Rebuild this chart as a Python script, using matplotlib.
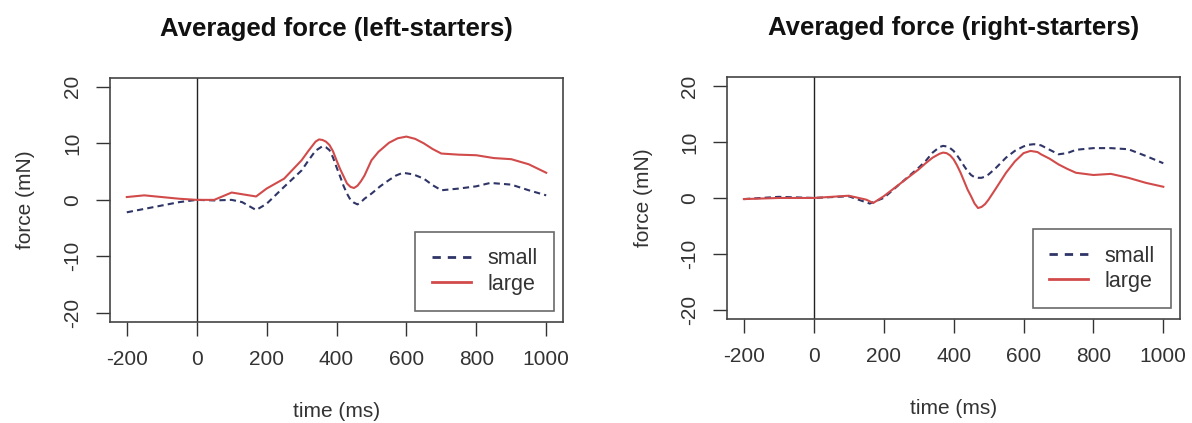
import matplotlib
matplotlib.use("Agg")
import matplotlib.pyplot as plt
from matplotlib.lines import Line2D

plt.rcParams['font.family'] = ['Liberation Sans', 'DejaVu Sans']

# left-starters (time in ms, force in mN)
left_large_t = [-200, -150, -100, -50, 0, 50, 100, 150, 170, 200, 250, 300, 320, 340, 350, 360,
                370, 380, 390, 400, 410, 420, 430, 440, 450, 460, 470, 480, 500, 520, 550,
                575, 600, 625, 650, 675, 700, 750, 800, 850, 900, 950, 1000]
left_large_f = [0.5, 0.8, 0.5, 0.2, 0.0, 0.0, 1.3, 0.8, 0.6, 2.0, 3.75, 7.0, 8.7, 10.3, 10.7, 10.6,
                10.3, 9.7, 8.6, 7.0, 5.5, 4.2, 2.9, 2.3, 2.1, 2.5, 3.3, 4.3, 7.0, 8.5, 10.1,
                10.9, 11.2, 10.8, 10.0, 9.0, 8.2, 8.0, 7.9, 7.4, 7.2, 6.3, 4.8]

left_small_t = [-200, -150, -100, -50, 0, 50, 100, 130, 170, 200, 250, 300, 320, 340, 360,
                370, 380, 390, 400, 410, 420, 430, 440, 450, 460, 470, 480, 500, 525, 550,
                570, 590, 620, 650, 675, 700, 750, 800, 840, 900, 950, 1000]
left_small_f = [-2.2, -1.6, -1.0, -0.4, 0.0, -0.1, 0.0, -0.4, -1.8, -0.7, 2.3, 5.2, 7.0, 8.7, 9.5,
                9.3, 8.8, 7.5, 5.8, 4.2, 2.5, 1.1, 0.0, -0.5, -0.8, -0.4, 0.2, 1.1, 2.4, 3.5,
                4.3, 4.8, 4.5, 3.75, 2.6, 1.7, 2.0, 2.4, 3.0, 2.7, 1.7, 0.8]

# right-starters
right_large_t = [-200, -100, 0, 100, 150, 170, 200, 250, 300, 320, 340, 360, 370, 380, 390,
                 400, 410, 420, 430, 440, 450, 460, 470, 480, 490, 500, 520, 550, 575, 600,
                 620, 640, 650, 675, 700, 725, 750, 800, 850, 900, 950, 1000]
right_large_f = [-0.2, 0.0, 0.0, 0.4, -0.3, -0.9, 0.3, 2.7, 5.1, 6.2, 7.2, 7.9, 8.1, 8.0, 7.6,
                 6.9, 5.8, 4.5, 3.0, 1.5, 0.3, -1.0, -1.8, -1.6, -1.1, -0.3, 1.6, 4.5, 6.5, 8.0,
                 8.4, 8.2, 7.8, 7.0, 6.0, 5.2, 4.5, 4.1, 4.3, 3.6, 2.7, 2.0]

right_small_t = [-200, -100, 0, 100, 160, 200, 250, 300, 320, 340, 360, 370, 380, 390, 400,
                 410, 420, 430, 440, 450, 460, 470, 480, 490, 500, 520, 550, 575, 600, 615,
                 630, 650, 675, 700, 725, 750, 800, 850, 900, 950, 1000]
right_small_f = [-0.2, 0.2, 0.0, 0.3, -1.0, 0.0, 2.7, 5.4, 6.6, 8.1, 9.1, 9.3, 9.2, 8.9, 8.4,
                 7.6, 6.7, 5.7, 4.8, 4.1, 3.7, 3.6, 3.6, 3.8, 4.2, 5.3, 7.2, 8.4, 9.2, 9.5,
                 9.6, 9.4, 8.6, 7.8, 8.0, 8.6, 8.9, 8.9, 8.7, 7.5, 6.2]

x_ticks = [-200, 0, 200, 400, 600, 800, 1000]
y_ticks = [-20, -10, 0, 10, 20]

SMALL_COLOR = '#2f3566'
LARGE_COLOR = '#d24b4b'
TEXT_COLOR = '#333333'

fig = plt.figure(figsize=(11.92, 4.23), dpi=100)
ax_left = fig.add_axes([0.0923, 0.239, 0.380, 0.577])
ax_right = fig.add_axes([0.610, 0.246, 0.380, 0.572])

panels = [
    (ax_left, "Averaged force (left-starters)", left_small_t, left_small_f, left_large_t, left_large_f),
    (ax_right, "Averaged force (right-starters)", right_small_t, right_small_f, right_large_t, right_large_f),
]

for ax, title, st, sf, lt, lf in panels:
    ax.axvline(0, color='#222222', linewidth=1.0)
    ax.plot(st, sf, color=SMALL_COLOR, linewidth=1.5, linestyle=(0, (3, 2)))
    ax.plot(lt, lf, color=LARGE_COLOR, linewidth=1.5)

    ax.set_xlim(-248, 1048)
    ax.set_ylim(-21.6, 21.6)
    ax.set_xticks(x_ticks)
    ax.set_yticks(y_ticks)
    ax.set_xticklabels([str(t) for t in x_ticks])
    ax.set_yticklabels([str(t) for t in y_ticks], rotation=90, va='center')
    ax.tick_params(direction='out', length=10, width=1.0, colors='#333333',
                   labelsize=15, labelcolor=TEXT_COLOR, pad=10)
    for sp in ax.spines.values():
        sp.set_linewidth(1.2)
        sp.set_color('#444444')

    ax.set_xlabel("time (ms)", fontsize=15, color=TEXT_COLOR, labelpad=24)
    ax.set_ylabel("force (mN)", fontsize=15, color=TEXT_COLOR, labelpad=20)
    ax.set_title(title, fontsize=18.5, fontweight='bold', color='#111111', pad=30)

    handles = [
        Line2D([], [], color=SMALL_COLOR, linewidth=2.0, linestyle=(0, (3, 2.5))),
        Line2D([], [], color=LARGE_COLOR, linewidth=2.0),
    ]
    leg = ax.legend(handles, ["small", "large"], loc='lower right',
                    bbox_to_anchor=(0.980, 0.045), borderaxespad=0, fontsize=15.5,
                    frameon=True, fancybox=False, edgecolor='#444444', handlelength=1.85,
                    handletextpad=0.75, borderpad=0.75, labelspacing=0.2)
    leg.get_frame().set_linewidth(1.2)
    for txt in leg.get_texts():
        txt.set_color(TEXT_COLOR)

fig.savefig("out.png", dpi=100, facecolor='white')
